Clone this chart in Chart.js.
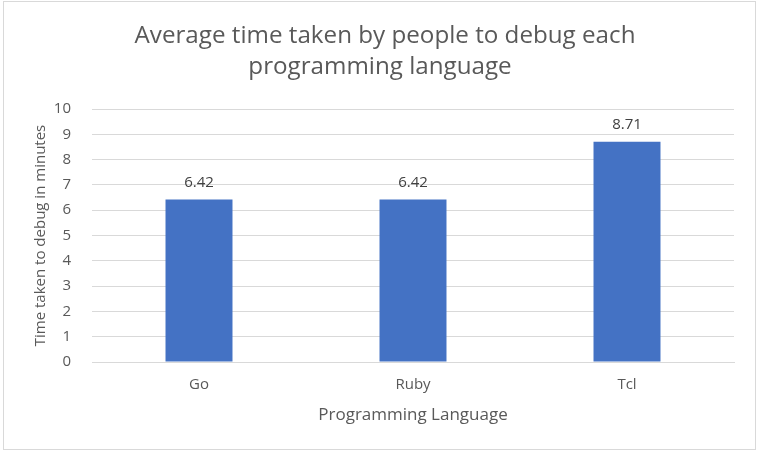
<!DOCTYPE html>
<html>
<head>
<meta charset="utf-8">
<script src="https://cdn.jsdelivr.net/npm/chart.js@4"></script>
<style>
  html, body { margin: 0; padding: 0; background: #fff; }
  #wrap { position: absolute; left: 0; top: 0; width: 758px; height: 452px; }
</style>
</head>
<body>
<div id="wrap"><canvas id="myChart" width="758" height="452"></canvas></div>
<script>
// chart data
const languages = ['Go', 'Ruby', 'Tcl'];
const debugMinutes = [6.42, 6.42, 8.71];
const yTicks = [0, 1, 2, 3, 4, 5, 6, 7, 8, 9, 10];
const chartTitle = ['Average time taken by people to debug each', 'programming language'];

const FONT = '"Open Sans", sans-serif';
const textGray = '#595959';
const gridGray = '#d9d9d9';

// two line title, centred a bit right of the canvas middle like the original
const titleText = {
    id: 'titleText',
    afterDraw(chart) {
        const ctx = chart.ctx;
        ctx.save();
        ctx.font = '24.2px ' + FONT;
        ctx.fillStyle = textGray;
        ctx.textAlign = 'center';
        ctx.textBaseline = 'alphabetic';
        ctx.fillText(chartTitle[0], 385, 43);
        ctx.fillText(chartTitle[1], 380, 74);
        ctx.restore();
    }
};

// value labels above each bar
const barLabels = {
    id: 'barLabels',
    afterDatasetsDraw(chart) {
        const ctx = chart.ctx;
        const meta = chart.getDatasetMeta(0);
        ctx.save();
        ctx.font = '15px ' + FONT;
        ctx.fillStyle = '#404040';
        ctx.textAlign = 'center';
        ctx.textBaseline = 'alphabetic';
        meta.data.forEach((bar, i) => {
            ctx.fillText(debugMinutes[i].toFixed(2), bar.x, bar.y - 13);
        });
        ctx.restore();
    }
};

// thin grey frame round the whole chart
const frame = {
    id: 'frame',
    afterDraw(chart) {
        const ctx = chart.ctx;
        ctx.save();
        ctx.strokeStyle = gridGray;
        ctx.lineWidth = 1;
        ctx.strokeRect(3.5, 1.5, 752, 448);
        ctx.restore();
    }
};

new Chart(document.getElementById('myChart').getContext('2d'), {
    type: 'bar',
    data: {
        labels: languages,
        datasets: [{
            label: 'Time taken to debug in minutes',
            data: debugMinutes,
            backgroundColor: '#4472c4',
            borderWidth: 0,
            categoryPercentage: 1,
            barPercentage: 0.313
        }]
    },
    options: {
        responsive: false,
        animation: false,
        layout: {
            padding: { left: 0, right: 24, top: 109, bottom: 0 }
        },
        plugins: {
            legend: { display: false },
            tooltip: { enabled: false },
            title: { display: false }
        },
        scales: {
            x: {
                grid: { display: false },
                border: { display: true, color: gridGray, width: 1 },
                ticks: {
                    color: textGray,
                    font: { family: FONT, size: 15 },
                    padding: 6,
                    maxRotation: 0
                },
                title: {
                    display: true,
                    text: 'Programming Language',
                    color: textGray,
                    font: { family: FONT, size: 17 },
                    padding: { top: 0, bottom: 27 }
                },
                afterFit(scale) { scale.height = 90; }
            },
            y: {
                min: 0,
                max: 10,
                afterBuildTicks(scale) { scale.ticks = yTicks.map(v => ({ value: v })); },
                grid: { color: gridGray, drawTicks: false },
                border: { display: false },
                ticks: {
                    color: textGray,
                    font: { family: FONT, size: 15 },
                    padding: 21
                },
                title: {
                    display: true,
                    text: 'Time taken to debug in minutes',
                    color: textGray,
                    font: { family: FONT, size: 15 },
                    padding: { top: 32, bottom: 0 }
                },
                afterFit(scale) { scale.width = 92; }
            }
        }
    },
    plugins: [barLabels, titleText, frame]
});
</script>
</body>
</html>
